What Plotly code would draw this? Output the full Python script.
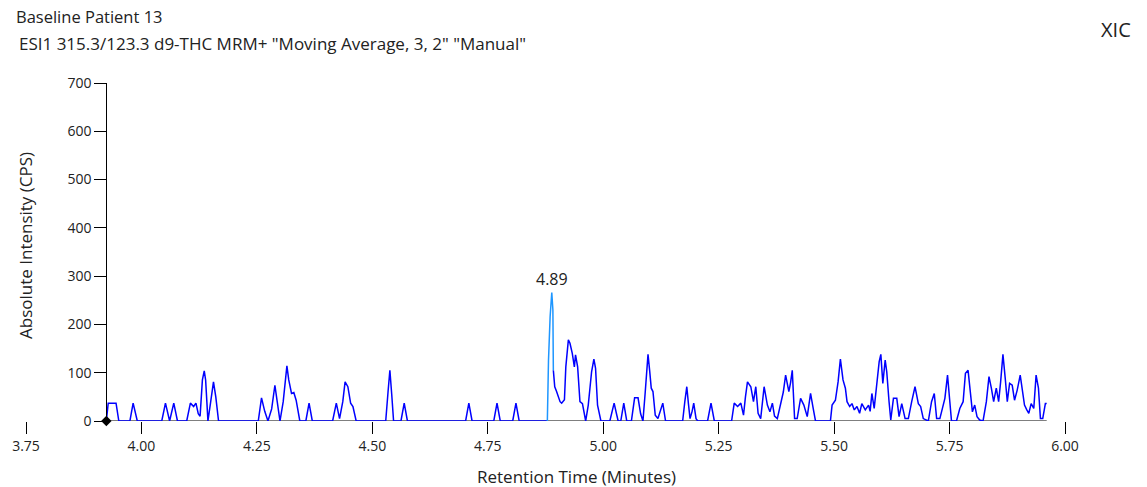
import numpy as np
import plotly.graph_objects as go

# Retention time (min) and smoothed intensity (cps) for the d9-THC XIC trace
rt_min = [
    3.924, 3.928, 3.945, 3.951, 3.975, 3.982, 3.991, 4.044, 4.052, 4.061,
    4.070, 4.078, 4.098, 4.106, 4.113, 4.118, 4.123, 4.127, 4.132, 4.136,
    4.139, 4.144, 4.150, 4.156, 4.161, 4.167, 4.253, 4.260, 4.267, 4.274,
    4.282, 4.289, 4.294, 4.300, 4.307, 4.315, 4.319, 4.325, 4.330, 4.335,
    4.343, 4.356, 4.363, 4.370, 4.414, 4.422, 4.429, 4.436, 4.441, 4.447,
    4.453, 4.458, 4.465, 4.529, 4.534, 4.538, 4.542, 4.546, 4.562, 4.569,
    4.576, 4.702, 4.709, 4.716, 4.763, 4.770, 4.777, 4.804, 4.811, 4.818,
    4.879, 4.8815, 4.885, 4.8886, 4.891, 4.892, 4.895, 4.899, 4.903, 4.9065,
    4.910, 4.916, 4.919, 4.9245, 4.928, 4.933, 4.9375, 4.940, 4.9446, 4.947,
    4.9496, 4.955, 4.959, 4.962, 4.9676, 4.9748, 4.9798, 4.9834, 4.9877, 4.9927,
    4.995, 5.0143, 5.0193, 5.0236, 5.0287, 5.0323, 5.038, 5.0445, 5.051, 5.061,
    5.068, 5.0754, 5.081, 5.086, 5.091, 5.097, 5.1005, 5.104, 5.1077, 5.1127,
    5.1185, 5.124, 5.129, 5.135, 5.172, 5.1767, 5.181, 5.1845, 5.188, 5.1925,
    5.196, 5.201, 5.2047, 5.226, 5.2334, 5.2406, 5.278, 5.2837, 5.291, 5.298,
    5.3038, 5.308, 5.3124, 5.3196, 5.3254, 5.3304, 5.3354, 5.341, 5.3484, 5.3555,
    5.361, 5.3663, 5.371, 5.377, 5.384, 5.390, 5.395, 5.3986, 5.402, 5.4058,
    5.4094, 5.4144, 5.420, 5.4274, 5.4345, 5.4418, 5.449, 5.4547, 5.4597, 5.492,
    5.4956, 5.5028, 5.5086, 5.5136, 5.5193, 5.5244, 5.528, 5.5337, 5.5387, 5.5437,
    5.5495, 5.5552, 5.560, 5.5675, 5.5746, 5.578, 5.5818, 5.5868, 5.5926, 5.5976,
    5.6012, 5.6055, 5.6106, 5.614, 5.619, 5.6227, 5.6285, 5.6357, 5.6407, 5.6465,
    5.6537, 5.6608, 5.668, 5.6752, 5.6824, 5.6874, 5.6931, 5.704, 5.711, 5.7169,
    5.722, 5.729, 5.7399, 5.7456, 5.7506, 5.7542, 5.765, 5.7722, 5.7794, 5.7844,
    5.7901, 5.7937, 5.7995, 5.8045, 5.8095, 5.8153, 5.8225, 5.8297, 5.8354, 5.8405,
    5.8455, 5.8512, 5.8563, 5.8606, 5.8656, 5.8706, 5.875, 5.880, 5.8857, 5.8907,
    5.8965, 5.903, 5.9073, 5.9123, 5.9173, 5.9216, 5.9267, 5.9324, 5.9374, 5.9425,
    5.9468, 5.9518, 5.9575, 5.9604,
]
intensity_cps = [
    0, 37, 37, 0, 0, 37, 0, 0, 37, 0,
    37, 0, 0, 37, 30, 37, 15, 10, 85, 104,
    85, 0, 40, 81, 50, 0, 0, 48, 20, 0,
    25, 74, 40, 0, 40, 114, 85, 57, 59, 43,
    0, 0, 37, 0, 0, 37, 5, 40, 81, 71,
    37, 30, 0, 0, 60, 105, 55, 0, 0, 37,
    0, 0, 37, 0, 0, 37, 0, 0, 37, 0,
    0, 126, 216, 266, 230, 105, 71, 61, 50, 40,
    37, 44, 112, 168, 161, 140, 112, 137, 112, 71,
    40, 36, 16, 0, 33, 102, 128, 109, 33, 5,
    0, 0, 20, 37, 15, 0, 0, 37, 0, 0,
    48, 48, 15, 0, 60, 138, 105, 68, 61, 12,
    5, 20, 37, 0, 0, 40, 71, 36, 5, 20,
    37, 5, 0, 0, 37, 0, 0, 37, 30, 37,
    12, 50, 81, 71, 40, 71, 16, 5, 71, 33,
    19, 37, 10, 5, 33, 60, 95, 80, 61, 80,
    105, 5, 5, 47, 33, 9, 57, 26, 0, 0,
    33, 43, 81, 128, 85, 68, 40, 30, 36, 23,
    30, 16, 36, 23, 33, 20, 57, 26, 81, 123,
    138, 78, 126, 102, 40, 2, 47, 47, 9, 36,
    5, 5, 40, 71, 36, 30, 5, 0, 40, 57,
    5, 5, 47, 95, 40, 0, 0, 26, 40, 99,
    105, 71, 19, 33, 9, 2, 0, 40, 92, 68,
    40, 68, 40, 81, 138, 88, 40, 78, 74, 43,
    64, 95, 68, 33, 23, 16, 36, 26, 95, 68,
    5, 5, 36, 36,
]

# Integrated peak window and apex label
peak_window = (4.879, 4.892)
peak_label = "4.89"

rt = np.array(rt_min)
cps = np.array(intensity_cps)
pre = rt <= peak_window[0]
inpk = (rt >= peak_window[0]) & (rt <= peak_window[1])
post = rt >= peak_window[1]
apex = int(np.argmax(np.where(inpk, cps, -1)))

X_RANGE = (3.75, 6.00)
Y_RANGE = (0, 700)
FONT = "Open Sans"
TEXT = "#222222"
TRACE_BLUE = "rgb(0,0,255)"
PEAK_BLUE = "rgb(30,150,255)"

fig = go.Figure()
for mask, colour in ((pre, TRACE_BLUE), (post, TRACE_BLUE), (inpk, PEAK_BLUE)):
    fig.add_trace(go.Scatter(
        x=rt[mask], y=cps[mask], mode="lines",
        line=dict(color=colour, width=1.5),
        hoverinfo="x+y", showlegend=False,
    ))

# start-of-trace marker
fig.add_trace(go.Scatter(
    x=[rt[0]], y=[cps[0]], mode="markers", cliponaxis=False,
    marker=dict(symbol="diamond", size=8, color="black"),
    showlegend=False, hoverinfo="skip",
))

# x-axis baseline spanning only the acquired time range
fig.add_shape(type="line", xref="x", yref="y", x0=rt[0], x1=rt[-1], y0=0, y1=0,
              line=dict(color="black", width=1.2), layer="below")

L, R, T, B = 21, 82, 83, 66
W, H = 1147, 487
plot_w, plot_h = W - L - R, H - T - B
yaxis_pos = (rt[0] - X_RANGE[0]) / (X_RANGE[1] - X_RANGE[0])


def px_x(px):
    return (px - L) / plot_w


def px_y(py):
    return (H - B - py) / plot_h


tick_font = dict(family=FONT, size=14, color=TEXT)
fig.update_layout(
    width=W, height=H,
    margin=dict(l=L, r=R, t=T, b=B),
    paper_bgcolor="white", plot_bgcolor="white",
    xaxis=dict(
        range=list(X_RANGE), dtick=0.25, tick0=3.75, tickformat=".2f",
        showline=False, showgrid=False, zeroline=False,
        ticks="outside", ticklen=12, tickcolor="black", tickwidth=1,
        tickfont=tick_font,
    ),
    yaxis=dict(
        range=list(Y_RANGE), dtick=100, anchor="free", position=yaxis_pos,
        showline=True, linecolor="black", linewidth=1,
        showgrid=False, zeroline=False,
        ticks="outside", ticklen=12, tickcolor="black", tickwidth=1,
        tickfont=tick_font,
    ),
    annotations=[
        dict(text="Baseline Patient 13", xref="paper", yref="paper",
             x=px_x(9), y=px_y(17), xanchor="left", yanchor="middle",
             showarrow=False, font=dict(family=FONT, size=16.5, color=TEXT)),
        dict(text='ESI1 315.3/123.3 d9-THC MRM+ "Moving Average, 3, 2" "Manual"',
             xref="paper", yref="paper", x=px_x(12), y=px_y(44),
             xanchor="left", yanchor="middle", showarrow=False,
             font=dict(family=FONT, size=17, color=TEXT)),
        dict(text="XIC", xref="paper", yref="paper", x=px_x(1116), y=px_y(30),
             xanchor="center", yanchor="middle", showarrow=False,
             font=dict(family=FONT, size=20, color=TEXT)),
        dict(text="Retention Time (Minutes)", xref="paper", yref="paper",
             x=px_x(574), y=px_y(476), xanchor="center", yanchor="middle",
             showarrow=False, font=dict(family=FONT, size=17, color=TEXT)),
        dict(text="Absolute Intensity (CPS)", xref="paper", yref="paper",
             x=px_x(20), y=px_y(246), xanchor="center", yanchor="middle",
             textangle=-90, showarrow=False,
             font=dict(family=FONT, size=17, color=TEXT)),
        dict(text=peak_label, x=rt[apex], y=cps[apex], xref="x", yref="y",
             xanchor="center", yanchor="bottom", yshift=1, showarrow=False,
             font=dict(family=FONT, size=16, color=TEXT)),
    ],
)

fig.write_html("out.html")
